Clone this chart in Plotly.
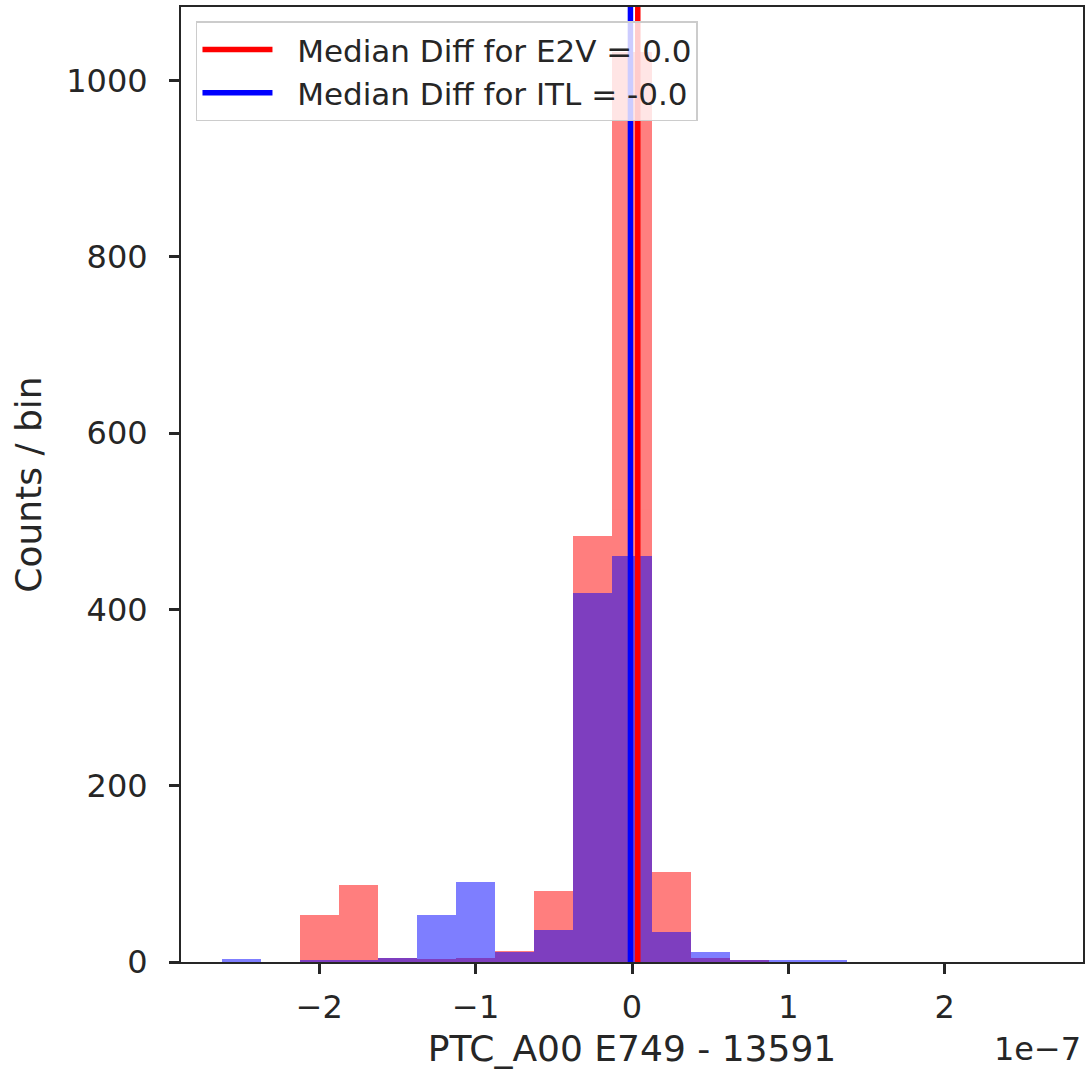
import numpy as np
import plotly.graph_objects as go

# ---- data (x in units of 1e-7) ----
n_bins = 21
x_lo, x_hi = -2.623, 2.623
e2v_counts = [0, 0, 53, 87, 5, 3, 5, 13, 81, 483, 1032, 102, 4, 2, 0, 0, 0, 0, 0, 0, 0]
itl_counts = [3, 0, 2, 2, 4, 53, 91, 11, 36, 419, 461, 34, 11, 2, 2, 2, 0, 0, 0, 0, 0]
e2v_median = 0.037
itl_median = -0.010
tick_vals = [-2, -1, 0, 1, 2]
tick_text = ["\u22122", "\u22121", "0", "1", "2"]
ytick_vals = [0, 200, 400, 600, 800, 1000]

edges = np.linspace(x_lo, x_hi, n_bins + 1)
centers = (edges[:-1] + edges[1:]) / 2
bw = edges[1] - edges[0]
span = x_hi - x_lo
xr = [x_lo - 0.05 * span, x_hi + 0.05 * span]
ymax = max(max(e2v_counts), max(itl_counts)) * 1.05

FONT = "DejaVu Sans"
TXT = "#262626"
PAD = "\u00a0\u00a0"

fig = go.Figure()
fig.add_trace(go.Bar(x=centers, y=e2v_counts, width=bw, marker=dict(color="red", line_width=0),
                     opacity=0.5, showlegend=False, name="E2V"))
fig.add_trace(go.Bar(x=centers, y=itl_counts, width=bw, marker=dict(color="blue", line_width=0),
                     opacity=0.5, showlegend=False, name="ITL"))
fig.add_trace(go.Scatter(x=[e2v_median, e2v_median], y=[0, ymax], mode="lines",
                         line=dict(color="red", width=5.5),
                         name=PAD + "Median Diff for E2V = 0.0"))
fig.add_trace(go.Scatter(x=[itl_median, itl_median], y=[0, ymax], mode="lines",
                         line=dict(color="blue", width=5.5),
                         name=PAD + "Median Diff for ITL = -0.0"))

axis_common = dict(showline=True, linecolor=TXT, linewidth=2, mirror=True,
                   ticks="outside", ticklen=10, tickwidth=2.5, tickcolor=TXT,
                   showgrid=False, zeroline=False,
                   tickfont=dict(family=FONT, size=32, color=TXT))

fig.update_layout(
    width=1088, height=1078,
    margin=dict(l=181, r=5, t=7, b=116, autoexpand=False),
    paper_bgcolor="white", plot_bgcolor="white",
    barmode="overlay", bargap=0,
    font=dict(family=FONT, color=TXT),
    xaxis=dict(range=xr, tickvals=tick_vals, ticktext=tick_text,
               ticklabelstandoff=6,
               title=dict(text="PTC_A00 E749 - 13591", font=dict(family=FONT, size=36, color=TXT),
                          standoff=10),
               **axis_common),
    yaxis=dict(range=[0, ymax], tickvals=ytick_vals, ticklabelstandoff=15,
               title=dict(text="Counts / bin", font=dict(family=FONT, size=36, color=TXT),
                          standoff=14),
               **axis_common),
    legend=dict(x=0.0166, y=0.985, xanchor="left", yanchor="top",
                bgcolor="rgba(255,255,255,0.8)", bordercolor="#cccccc", borderwidth=1.5,
                font=dict(family=FONT, size=31, color=TXT), itemwidth=70,
                tracegroupgap=0),
    showlegend=True,
)
fig.add_annotation(text="1e\u22127", xref="paper", yref="paper", x=1.0, y=0, yshift=-66,
                   xanchor="right", yanchor="top", showarrow=False,
                   font=dict(family=FONT, size=32, color=TXT))
fig.write_html("out.html", config={"displayModeBar": False},
               post_script="document.body.style.margin='0';")
